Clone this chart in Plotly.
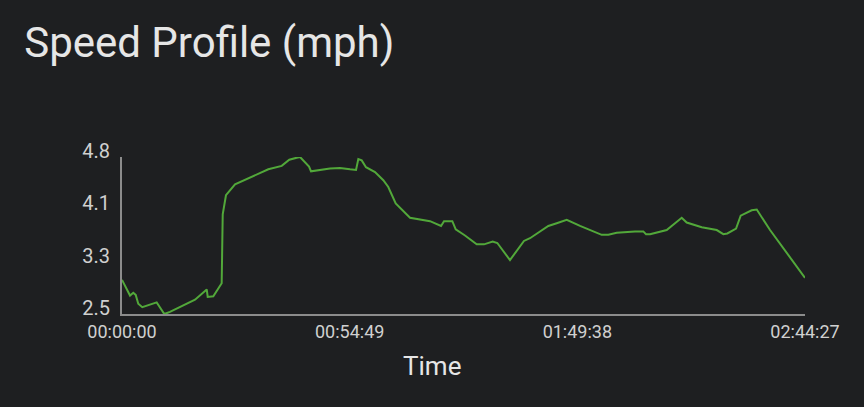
import plotly.graph_objects as go

# elapsed time (seconds) and speed (mph)
time_s = [0, 116, 163, 198, 235, 293, 501, 611, 693, 1055, 1224, 1238, 1319, 1440, 1455,
          1502, 1633, 1994, 2114, 2307, 2417, 2524, 2572, 2702, 2731, 3005, 3149, 3294,
          3381, 3414, 3463, 3525, 3655, 3775, 3847, 3954, 4161, 4450, 4497, 4609, 4652,
          4772, 4821, 4955, 5124, 5230, 5355, 5422, 5605, 5807, 5894, 6159, 6280, 6425,
          6617, 6737, 6930, 7026, 7147, 7411, 7531, 7570, 7628, 7869, 8086, 8158, 8278,
          8375, 8592, 8687, 8745, 8871, 8938, 9025, 9097, 9170, 9362, 9867]
speed_mph = [3.00, 2.77, 2.81, 2.78, 2.65, 2.60, 2.67, 2.50, 2.53, 2.71, 2.86, 2.75, 2.76,
             2.95, 3.96, 4.24, 4.40, 4.56, 4.62, 4.67, 4.76, 4.79, 4.80, 4.66, 4.59, 4.63,
             4.64, 4.62, 4.61, 4.77, 4.75, 4.65, 4.58, 4.46, 4.36, 4.12, 3.91, 3.86, 3.84,
             3.79, 3.86, 3.86, 3.74, 3.65, 3.52, 3.52, 3.56, 3.54, 3.29, 3.57, 3.61, 3.79,
             3.83, 3.88, 3.79, 3.74, 3.66, 3.66, 3.69, 3.71, 3.71, 3.67, 3.67, 3.73, 3.91,
             3.84, 3.80, 3.77, 3.73, 3.67, 3.68, 3.75, 3.94, 3.98, 4.02, 4.03, 3.73, 3.03]

x_tick_vals = [0, 3289, 6578, 9867]
x_tick_text = ["00:00:00", "00:54:49", "01:49:38", "02:44:27"]
y_tick_vals = [2.5, 3.2667, 4.0333, 4.8]
y_tick_text = ["2.5", "3.3", "4.1", "4.8"]

bg = "#1e1f21"
fig = go.Figure()
fig.add_trace(go.Scatter(x=time_s, y=speed_mph, mode="lines",
                         line=dict(color="rgb(82,168,58)", width=2),
                         hoverinfo="skip"))

fig.update_layout(
    width=864, height=407,
    paper_bgcolor=bg, plot_bgcolor=bg,
    margin=dict(l=122, r=59, t=157, b=93),
    showlegend=False,
    font=dict(family="Roboto", color="#d8d8d8"),
    title=dict(text="Speed Profile (mph)", font=dict(size=42, color="#e6e6e6", family="Roboto"),
               xref="container", yref="container", x=0.028, xanchor="left",
               y=1 - 42 / 407, yanchor="middle"),
    xaxis=dict(range=[0, 9867], tickvals=x_tick_vals, ticktext=x_tick_text,
               showgrid=False, zeroline=False, showline=True, linecolor="#8c8c8c",
               linewidth=2, ticks="", tickfont=dict(size=18, color="#d0d0d0")),
    yaxis=dict(range=[2.5, 4.8], tickvals=y_tick_vals, ticktext=y_tick_text,
               showgrid=False, zeroline=False, showline=True, linecolor="#8c8c8c",
               linewidth=2, ticks="", tickfont=dict(size=20, color="#d0d0d0"),
               ticklabelshift=-6, ticklabelstandoff=6),
    annotations=[dict(text="Time", xref="paper", yref="paper",
                      x=(432 - 122) / 683, y=-(366 - 314) / 157,
                      xanchor="center", yanchor="middle", showarrow=False,
                      font=dict(size=26, color="#e6e6e6", family="Roboto"))],
)

fig.write_html("out.html", config={"displayModeBar": False},
               post_script="document.body.style.margin='0';")
